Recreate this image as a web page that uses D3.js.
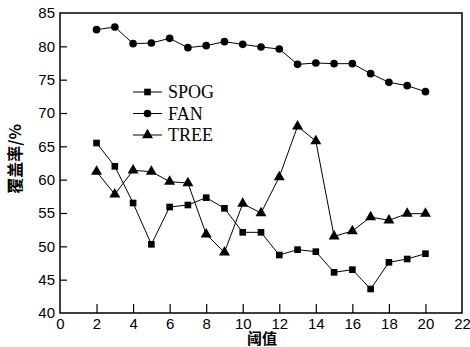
<!DOCTYPE html>
<html>
<head>
<meta charset="utf-8">
<script src="https://cdn.jsdelivr.net/npm/d3@7"></script>
<style>
  body { margin: 0; background: #fff; }
  svg { display: block; }
</style>
</head>
<body>
<script>
// threshold values on the x axis
var thresholds = [2, 3, 4, 5, 6, 7, 8, 9, 10, 11, 12, 13, 14, 15, 16, 17, 18, 19, 20];

// coverage (%) per method
var spog = [65.5, 62.0, 56.5, 50.3, 55.9, 56.2, 57.3, 55.7, 52.1, 52.1, 48.7, 49.5, 49.2, 46.1, 46.5, 43.6, 47.6, 48.1, 48.9];
var fan  = [82.5, 82.9, 80.4, 80.5, 81.2, 79.8, 80.1, 80.7, 80.3, 79.9, 79.6, 77.3, 77.5, 77.4, 77.4, 75.9, 74.6, 74.1, 73.2];
var tree = [61.2, 57.8, 61.4, 61.2, 59.7, 59.5, 51.8, 49.1, 56.4, 55.0, 60.4, 68.0, 65.8, 51.5, 52.3, 54.4, 53.9, 54.9, 54.9];

var xTicks = [0, 2, 4, 6, 8, 10, 12, 14, 16, 18, 20, 22];
var yTicks = [40, 45, 50, 55, 60, 65, 70, 75, 80, 85];

var series = [
  { name: "SPOG", values: spog, marker: "square" },
  { name: "FAN",  values: fan,  marker: "circle" },
  { name: "TREE", values: tree, marker: "triangle" }
];

var width = 470, height = 347;
var margin = { left: 60, right: 8, top: 13, bottom: 34 };

var svg = d3.select("body").append("svg")
    .attr("width", width)
    .attr("height", height);

var x = d3.scaleLinear().domain([0, 22]).range([margin.left, width - margin.right]);
var y = d3.scaleLinear().domain([40, 85]).range([height - margin.bottom, margin.top]);

// bottom axis, ticks pointing inward
var xAxis = svg.append("g")
    .attr("transform", "translate(0," + y(40) + ")")
    .call(d3.axisBottom(x).tickValues(xTicks).tickSize(-9).tickPadding(5));
xAxis.select(".domain").remove();
xAxis.selectAll("line").attr("stroke", "#000").attr("stroke-width", 1.2);
xAxis.selectAll("text")
    .attr("font-family", "Liberation Sans, Arial, sans-serif")
    .attr("font-size", 15)
    .attr("fill", "#000");
// hide ticks on the frame edges
xAxis.selectAll(".tick").filter(function(d) { return d === 0 || d === 22; })
    .select("line").remove();

var yAxis = svg.append("g")
    .attr("transform", "translate(" + x(0) + ",0)")
    .call(d3.axisLeft(y).tickValues(yTicks).tickSize(-7).tickPadding(5));
yAxis.select(".domain").remove();
yAxis.selectAll("line").attr("stroke", "#000").attr("stroke-width", 1.2);
yAxis.selectAll("text")
    .attr("font-family", "Liberation Sans, Arial, sans-serif")
    .attr("font-size", 15)
    .attr("fill", "#000");
yAxis.selectAll(".tick").filter(function(d) { return d === 40 || d === 85; })
    .select("line").remove();

// frame
svg.append("rect")
    .attr("x", x(0))
    .attr("y", y(85))
    .attr("width", x(22) - x(0))
    .attr("height", y(40) - y(85))
    .attr("fill", "none")
    .attr("stroke", "#000")
    .attr("stroke-width", 1.5);

var line = d3.line()
    .x(function(d, i) { return x(thresholds[i]); })
    .y(function(d) { return y(d); });

var symbols = {
  square: d3.symbol().type(d3.symbolSquare).size(44),
  circle: d3.symbol().type(d3.symbolCircle).size(46),
  triangle: d3.symbol().type(d3.symbolTriangle).size(52)
};

series.forEach(function(s) {
  svg.append("path")
      .datum(s.values)
      .attr("d", line)
      .attr("fill", "none")
      .attr("stroke", "#000")
      .attr("stroke-width", 1);

  svg.append("g").selectAll("path")
      .data(s.values)
      .join("path")
      .attr("transform", function(d, i) { return "translate(" + x(thresholds[i]) + "," + y(d) + ")"; })
      .attr("d", symbols[s.marker])
      .attr("fill", "#000");
});

// legend
var legend = svg.append("g").attr("transform", "translate(133,92)");
series.forEach(function(s, i) {
  var g = legend.append("g").attr("transform", "translate(0," + (i * 21.5) + ")");
  g.append("line")
      .attr("x1", 0).attr("x2", 29)
      .attr("stroke", "#000").attr("stroke-width", 1);
  g.append("path")
      .attr("transform", "translate(14.5,0)")
      .attr("d", symbols[s.marker])
      .attr("fill", "#000");
  g.append("text")
      .attr("x", 35)
      .attr("dy", "0.35em")
      .attr("font-family", "Liberation Serif, Times New Roman, serif")
      .attr("font-size", 18)
      .attr("fill", "#000")
      .text(s.name);
});

// axis titles
svg.append("text")
    .attr("x", 262)
    .attr("y", 344)
    .attr("text-anchor", "middle")
    .attr("font-family", "Noto Sans CJK SC, sans-serif")
    .attr("font-weight", "bold")
    .attr("font-size", 15)
    .attr("fill", "#000")
    .text("阈值");

svg.append("text")
    .attr("transform", "translate(21,159) rotate(-90)")
    .attr("text-anchor", "middle")
    .attr("font-family", "Noto Sans CJK SC, sans-serif")
    .attr("font-weight", "bold")
    .attr("font-size", 16)
    .attr("fill", "#000")
    .text("覆盖率/%");
</script>
</body>
</html>
